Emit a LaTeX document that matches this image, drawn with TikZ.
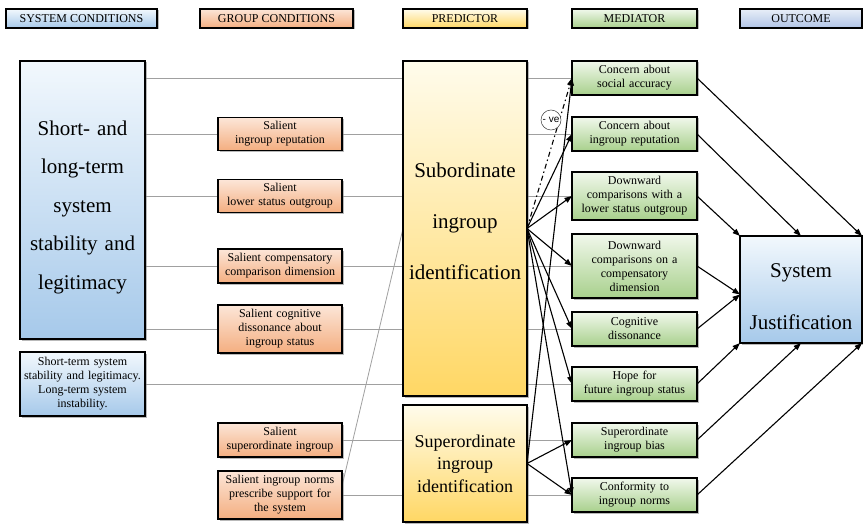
\documentclass[tikz,border=0pt]{standalone}
\usepackage{fontspec}
\setmainfont{Liberation Serif}
\setsansfont{Liberation Sans}
\usetikzlibrary{arrows.meta,positioning,shadows,backgrounds}
\definecolor{SysHi}{RGB}{242,248,253}
\definecolor{SysLo}{RGB}{166,201,234}
\definecolor{GrpHi}{RGB}{252,230,216}
\definecolor{GrpLo}{RGB}{244,174,128}
\definecolor{PreHi}{RGB}{255,252,236}
\definecolor{PreLo}{RGB}{255,215,100}
\definecolor{MedHi}{RGB}{241,248,236}
\definecolor{MedLo}{RGB}{168,208,140}
\definecolor{OutHi}{RGB}{232,238,248}
\definecolor{OutLo}{RGB}{176,196,230}
\definecolor{Row}{RGB}{160,160,160}
\tikzset{
  nbase/.style={draw=black,line width=1.1pt,align=center,font=\fontsize{12}{14}\selectfont,inner sep=2pt,outer sep=0pt,drop shadow={shadow xshift=1.5pt,shadow yshift=-1.5pt,opacity=0.55}},
  csys/.style={top color=SysHi,bottom color=SysLo},
  cgrp/.style={top color=GrpHi,bottom color=GrpLo},
  cpre/.style={top color=PreHi,bottom color=PreLo},
  cmed/.style={top color=MedHi,bottom color=MedLo},
  cout/.style={top color=OutHi,bottom color=OutLo},
  nhead/.style={nbase,minimum height=19pt,inner ysep=0pt},
  nsys/.style={nbase,csys,text width=121pt,minimum width=125pt},
  ngrp/.style={nbase,cgrp,text width=120pt,minimum width=124pt},
  npred/.style={nbase,cpre,text width=120pt,minimum width=124pt},
  nmed/.style={nbase,cmed,text width=121pt,minimum width=125pt},
  nout/.style={nbase,csys,text width=118pt,minimum width=122pt},
  nline/.style={draw=Row,line width=0.8pt},
  narr/.style={-{Triangle[length=7.5pt,width=5.5pt]},line width=1.1pt,draw=black},
  ndashdot/.style={dash pattern=on 5pt off 3pt on 1.5pt off 3pt},
  tagve/.style={circle,draw=black!75,fill=white,line width=0.5pt,font=\sffamily\fontsize{10}{11}\selectfont,inner sep=0.5pt,minimum size=20pt}
}
\begin{document}
\begin{tikzpicture}[x=1pt,y=-1pt]
\useasboundingbox (0,0) rectangle (863,524);
% headers
\node[nhead,csys,minimum width=151pt] (hsys) at (81.5,18.5) {SYSTEM CONDITIONS};
\node[nhead,cgrp,minimum width=153pt,right=43pt of hsys] (hgrp) {GROUP CONDITIONS};
\node[nhead,cpre,minimum width=124pt,right=50pt of hgrp] (hpre) {PREDICTOR};
\node[nhead,cmed,minimum width=125pt,right=45pt of hpre] (hmed) {MEDIATOR};
\node[nhead,cout,minimum width=122pt,right=43pt of hmed] (hout) {OUTCOME};
% system conditions and predictor
\node[nsys,anchor=north,minimum height=278pt,font=\fontsize{21}{38.5}\selectfont,text depth=144pt] (sbig) at (82.5,61) {Short- and\\ long-term\\ system\\ stability and\\ legitimacy};
\node[npred,anchor=north,minimum height=335pt,font=\fontsize{21}{51}\selectfont,text depth=116pt] (psub) at (465,61) {Subordinate\\ ingroup\\ identification};
\node[npred,below=9pt of psub,minimum height=117pt,font=\fontsize{18}{22.5}\selectfont] (psup) {Superordinate\\ ingroup\\ identification};
% mediators
\node[nmed,minimum height=34pt] (macc) at (634.5,78) {Concern about\\ social accuracy};
\node[nmed,below=22pt of macc,minimum height=34pt] (mrep) {Concern about\\ ingroup reputation};
\node[nmed,below=21pt of mrep,minimum height=48pt] (mout) {Downward\\ comparisons with a\\ lower status outgroup};
\node[nmed,below=14pt of mout,minimum height=64pt] (mcom) {Downward\\ comparisons on a\\ compensatory\\ dimension};
\node[nmed,below=14pt of mcom,minimum height=34pt] (mdis) {Cognitive\\ dissonance};
\node[nmed,below=21pt of mdis,minimum height=34pt] (mhop) {Hope for\\ future ingroup status};
\node[nmed,below=22pt of mhop,minimum height=34pt] (mbia) {Superordinate\\ ingroup bias};
\node[nmed,below=21pt of mbia,minimum height=34pt] (mnor) {Conformity to\\ ingroup norms};
% group conditions
\coordinate (gcol) at (280,0);
\coordinate (scol) at (82.5,0);
\node[ngrp,minimum height=33pt] (grep) at (gcol |- mrep) {Salient\\ ingroup reputation};
\node[ngrp,minimum height=33pt] (gout) at (gcol |- mout) {Salient\\ lower status outgroup};
\node[ngrp,minimum height=34pt] (gcom) at (gcol |- mcom) {Salient compensatory\\ comparison dimension};
\node[ngrp,minimum height=48pt] (gdis) at (gcol |- mdis) {Salient cognitive\\ dissonance about\\ ingroup status};
\node[ngrp,minimum height=34pt] (gsup) at (gcol |- mbia) {Salient\\ superordinate ingroup};
\node[ngrp,minimum height=48pt] (gnor) at (gcol |- mnor) {Salient ingroup norms\\ prescribe support for\\ the system};
\node[nsys,minimum height=64pt] (ssho) at (scol |- mhop) {Short-term system\\ stability and legitimacy.\\ Long-term system\\ instability.};
% outcome
\node[nout,minimum height=107pt,font=\fontsize{21}{52}\selectfont,text depth=38pt] (osj) at (801,289.5) {System\\ Justification};
% grey rows behind the boxes
\begin{scope}[on background layer]
\fill[white] (0,0) rectangle (863,524);
\draw[nline] (sbig.east |- macc) -- (macc.west);
\draw[nline] (sbig.east |- grep) -- (grep.west);
\draw[nline] (grep) -- (mrep);
\draw[nline] (sbig.east |- gout) -- (gout.west);
\draw[nline] (gout) -- (mout);
\draw[nline] (sbig.east |- gcom) -- (gcom.west);
\draw[nline] (gcom) -- (mcom);
\draw[nline] (sbig.east |- gdis) -- (gdis.west);
\draw[nline] (gdis) -- (mdis);
\draw[nline] (ssho) -- (mhop);
\draw[nline] (gsup) -- (mbia);
\draw[nline] (gnor) -- (mnor);
\draw[nline] ([yshift=9pt]gnor.east) -- (psub.west);
\end{scope}
% predictor to mediators
\draw[narr,ndashdot] (psub.east) -- (macc.west);
\draw[narr] (psub.east) -- (mrep.west);
\draw[narr] (psub.east) -- (mout.west);
\draw[narr] (psub.east) -- (mcom.west);
\draw[narr] (psub.east) -- (mdis.west);
\draw[narr] (psub.east) -- (mhop.west);
\draw[narr] (psub.east) -- (mnor.west);
\draw[narr] (psup.east) -- (macc.west);
\draw[narr] (psup.east) -- (mbia.west);
\draw[narr] (psup.east) -- (mnor.west);
\node[tagve] (ve) at (551,120) {- ve};
% mediators to outcome
\draw[narr] (macc.east) -- (osj.north east);
\draw[narr] (mrep.east) -- (osj.north);
\draw[narr] (mout.east) -- (osj.north west);
\draw[narr] (mcom.east) -- ([yshift=-5pt]osj.west);
\draw[narr] (mdis.east) -- ([yshift=-5pt]osj.west);
\draw[narr] (mhop.east) -- (osj.south west);
\draw[narr] (mbia.east) -- (osj.south);
\draw[narr] (mnor.east) -- (osj.south east);
\end{tikzpicture}
\end{document}
